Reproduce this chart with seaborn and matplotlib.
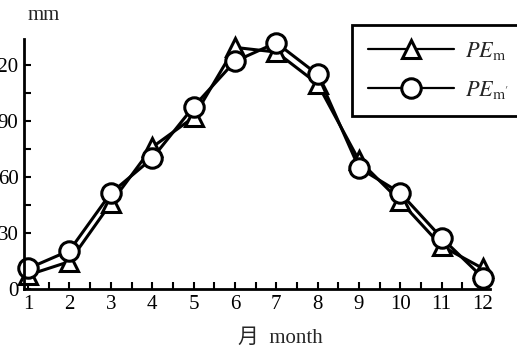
import numpy as np
import pandas as pd
import matplotlib
matplotlib.use("Agg")
import matplotlib.pyplot as plt
import seaborn as sns
from matplotlib.ticker import MultipleLocator

# Monthly values
months = [1, 2, 3, 4, 5, 6, 7, 8, 9, 10, 11, 12]
pe_m = [7.5, 14.7, 46, 76, 92, 129.5, 127, 110, 69, 47, 23, 11]
pe_m2 = [11, 20.6, 51.4, 70, 97.7, 122, 132, 115, 65, 51.5, 27.4, 6]
y_ticks = [0, 30, 60, 90, 120]

sns.set_theme(style="white")
plt.rcParams["font.family"] = ["Liberation Serif", "Noto Sans CJK SC"]
plt.rcParams["mathtext.fontset"] = "stix"

fig = plt.figure(figsize=(5.17, 3.5), dpi=100)
ax = fig.add_axes([24 / 517, 61 / 350, 466 / 517, 250 / 350])

line_kw = dict(color="black", markerfacecolor="white", markeredgecolor="black",
               markeredgewidth=2.2, linewidth=2.2, clip_on=False)
sns.lineplot(x=months, y=pe_m, marker="^", markersize=13, ax=ax,
             label=r"$\mathit{PE}_{\mathrm{m}}$", **line_kw)
sns.lineplot(x=months, y=pe_m2, marker="o", markersize=14, ax=ax,
             label=r"$\mathit{PE}_{\mathrm{m'}}$", **line_kw)

ax.set_xlim(0.9, 12.17)
ax.set_ylim(0, 134)
ax.set_xticks(months)
ax.set_yticks(y_ticks)
ax.xaxis.set_minor_locator(MultipleLocator(0.5))
ax.yaxis.set_minor_locator(MultipleLocator(15))
ax.tick_params(which="both", direction="in", length=5, width=1.5,
               colors="black", labelsize=15, pad=4)
ax.tick_params(axis="x", which="both", bottom=True, labelbottom=True)
ax.tick_params(axis="y", which="both", left=True, pad=4)
for s in ["top", "right"]:
    ax.spines[s].set_visible(False)
for s in ["left", "bottom"]:
    ax.spines[s].set_color("black")
    ax.spines[s].set_linewidth(2)
ax.set_xlabel("")
ax.set_ylabel("")

fig.text(28 / 517, 1 - 15 / 350, "mm", fontsize=15, va="center", ha="left")
fig.text(280 / 517, 1 - 338 / 350, "月  month", fontsize=15, va="center", ha="center")

ax.legend_.remove()
handles, labels = ax.get_legend_handles_labels()
leg = fig.legend(handles, labels, loc="upper left",
                 bbox_to_anchor=(352 / 517, 1 - 25 / 350, 0.45, 0.001),
                 mode="expand", borderaxespad=0, fontsize=16, handlelength=3.9,
                 handletextpad=0.5, labelspacing=0.75, borderpad=0.7,
                 fancybox=False, frameon=True, edgecolor="black")
leg.get_frame().set_linewidth(2)
leg.get_frame().set_alpha(1)
for h in leg.legend_handles:
    h.set_linewidth(1.6)

fig.savefig("out.png", dpi=100)
